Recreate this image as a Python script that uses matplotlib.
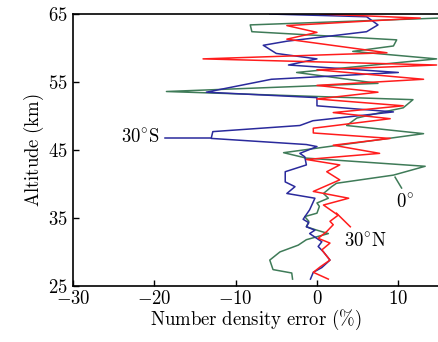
import matplotlib
matplotlib.use("Agg")
import matplotlib.pyplot as plt

plt.rcParams["font.family"] = "serif"
plt.rcParams["font.serif"] = ["cmr10"]
plt.rcParams["mathtext.fontset"] = "cm"
plt.rcParams["axes.formatter.use_mathtext"] = True

# 30 deg S (blue)
s_err = [-0.8, -0.45, 0.6, 1.6, 0.8, 0.15, 0.6, -0.9, -0.25, -1.3, -1.0, -1.7, -0.9, -0.25,
         -3.7, -2.7, -3.9, -3.9, -1.3, -1.5, -2.1, 0.0, -1.3, -13.0, -12.8, -2.1, -0.5, 9.4,
         0.0, 0.0, -13.6, -5.6, 10.0, -3.5, 0.0, -5.0, -6.6, -3.7, 6.1, 7.5, 6.1, -5.8]
s_alt = [26.0, 27.0, 27.7, 28.8, 30.0, 30.8, 31.5, 32.7, 33.2, 33.7, 34.3, 34.8, 36.2, 37.9,
         38.6, 39.6, 40.3, 41.8, 42.8, 44.0, 44.5, 45.5, 45.8, 46.7, 47.7, 48.6, 49.3, 50.6,
         51.5, 52.7, 53.5, 55.4, 56.4, 57.5, 58.4, 59.2, 60.4, 61.0, 62.4, 63.4, 64.6, 65.0]

# equator (green)
e_err = [-3.0, -3.1, -5.4, -5.8, -4.55, -2.3, -1.3, 1.4, 0.0, -1.3, -1.0, -1.5, 0.0, 0.3,
         0.0, 1.4, 0.8, 1.8, 2.4, 9.4, 13.3, -1.3, -4.1, 13.1, 3.65, 4.9, 8.2, 10.6, 11.8,
         -18.5, 7.5, -2.5, 14.7, 4.4, 9.4, 9.8, -8.0, -8.2, 14.9, 16.0]
e_alt = [26.0, 26.9, 27.4, 28.8, 30.0, 31.0, 31.8, 32.7, 33.2, 33.7, 34.5, 35.2, 35.7, 36.7,
         37.2, 37.9, 38.6, 39.6, 40.1, 41.3, 42.6, 43.8, 44.6, 47.4, 48.6, 49.7, 50.6, 51.2, 52.4,
         53.6, 54.8, 56.4, 58.4, 59.5, 60.3, 61.2, 62.4, 63.4, 64.4, 64.6]

# 30 deg N (red)
n_err = [1.4, -0.45, 0.4, 1.6, 0.6, 1.6, 0.15, 1.2, 2.0, 1.6, 2.6, 0.8, 3.9, -0.45, 2.8,
         1.2, 2.8, -1.3, 7.7, 2.0, 9.0, -0.45, -0.45, 9.0, 2.0, 10.6, 0.0, 7.5, 0.0, 13.1,
         0.0, 14.7, -14.0, 8.6, -3.7, 0.0, -3.7, 12.7, 0.4]
n_alt = [26.0, 27.0, 27.8, 28.8, 30.3, 31.3, 32.0, 33.0, 34.0, 34.5, 35.4, 36.9, 37.9, 38.9, 40.6,
         41.8, 42.8, 43.6, 44.5, 45.7, 46.7, 47.5, 48.2, 49.6, 50.5, 51.5, 52.5, 53.5, 54.5, 55.4,
         56.8, 57.5, 58.4, 59.3, 61.3, 62.3, 63.3, 64.4, 65.0]

blue = "#2a2a9c"
green = "#3f7b58"
red = "#ff1c1c"

fig = plt.figure(figsize=(4.39, 3.42), dpi=100)
ax = fig.add_axes([0.166, 0.164, 0.834, 0.795])

ax.plot(e_err, e_alt, color=green, lw=1.1)
ax.plot(s_err, s_alt, color=blue, lw=1.1)
ax.plot(n_err, n_alt, color=red, lw=1.1)

# labels with leader lines
ax.plot([-18.7, -13.0], [46.8, 46.8], color=blue, lw=1.1)
ax.text(-19.3, 46.8, r"$\mathrm{30^{\circ}S}$", fontsize=13.5, ha="right", va="center")
ax.plot([9.6, 10.4], [41.0, 39.4], color=green, lw=1.1)
ax.text(10.8, 37.2, r"$\mathrm{0^{\circ}}$", fontsize=13.5, ha="center", va="center")
ax.plot([2.4, 4.1], [35.7, 33.7], color=red, lw=1.1)
ax.text(3.3, 31.5, r"$\mathrm{30^{\circ}N}$", fontsize=13.5, ha="left", va="center")

ax.set_xlim(-30, 15)
ax.set_ylim(25, 65)
ax.set_xticks([-30, -20, -10, 0, 10])
ax.set_yticks([25, 35, 45, 55, 65])
ax.tick_params(direction="in", length=4, width=1, labelsize=13.5)
ax.tick_params(axis="x", pad=3)
ax.tick_params(axis="y", pad=4)
ax.set_xlabel(r"$\mathrm{Number\ density\ error\ (\%)}$", fontsize=13.5, labelpad=0)
ax.set_ylabel(r"$\mathrm{Altitude\ (km)}$", fontsize=13.5, labelpad=1)
for sp in ax.spines.values():
    sp.set_linewidth(1.2)

fig.savefig("out.png", dpi=100)
